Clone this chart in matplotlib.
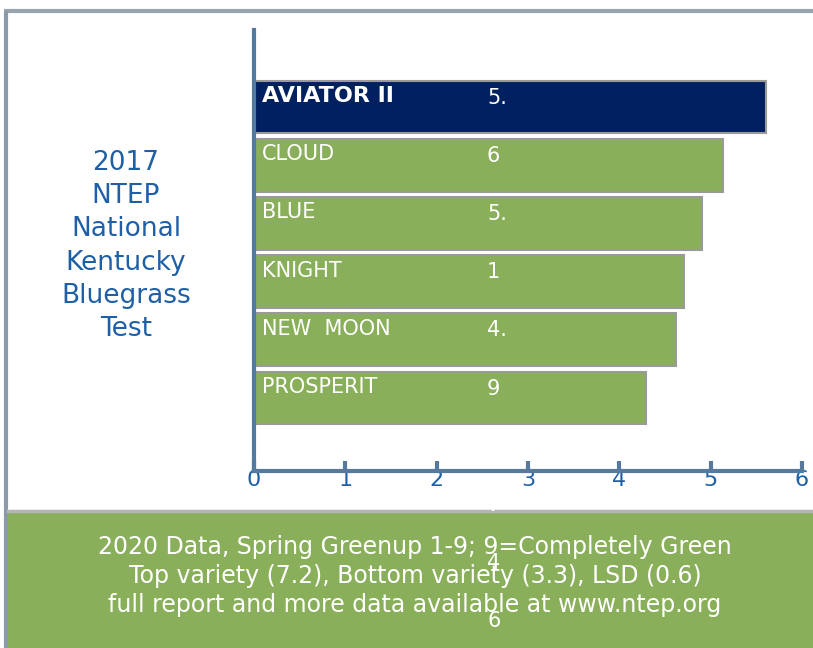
from matplotlib import font_manager
import matplotlib

matplotlib.use("Agg")
import matplotlib.pyplot as plt
from matplotlib.patches import Rectangle

varieties = ["AVIATOR II", "CLOUD", "BLUE", "KNIGHT", "NEW  MOON", "PROSPERIT"]
scores = [5.61, 5.13, 4.91, 4.71, 4.62, 4.29]
# value labels as they show in the picture (wrapped, spilling below)
value_labels = ["5.", "6", "5.", "1", "4.", "9"]
spill_labels = ["7", "4", "6"]
x_ticks = [0, 1, 2, 3, 4, 5, 6]

NAVY = "#002060"
GREEN = "#8AAF5A"
AXIS_BLUE = "#557A9E"
TEXT_BLUE = "#1F5FA6"

W, H = 813, 648


def px_box(left, top, width, height):
    return [left / W, 1 - (top + height) / H, width / W, height / H]


def narrow_family():
    names = {f.name for f in font_manager.fontManager.ttflist}
    for name in ["Liberation Sans Narrow", "DejaVu Sans Condensed"]:
        if name in names:
            return name
    return "DejaVu Sans"


fig = plt.figure(figsize=(W / 100, H / 100), dpi=100)

# outer frame
frame = fig.add_axes([0, 0, 1, 1])
frame.set_xlim(0, W)
frame.set_ylim(H, 0)
frame.axis("off")
frame.plot([4, W], [11, 11], color="#9aa4ad", lw=3, solid_capstyle="butt")
frame.plot([6, 6], [11, H], color="#8a9aab", lw=3, solid_capstyle="butt")

# chart
ax = fig.add_axes(px_box(254, 30, 548, 441))
ypos = list(range(len(varieties)))
colors = [NAVY] + [GREEN] * (len(varieties) - 1)
ax.barh(ypos, scores, height=0.91, color=colors, edgecolor="#9a9a9a", linewidth=1.5, zorder=2)
ax.set_xlim(0, 6)
ax.set_ylim(6.254, -1.323)

for i, (name, lab) in enumerate(zip(varieties, value_labels)):
    weight = "bold" if i == 0 else "normal"
    ax.text(0.09, i - 0.19, name, color="white", fontsize=15 if i else 16,
            fontweight=weight, va="center", ha="left", zorder=3)
    ax.text(2.55, i - 0.16, lab, color="white", fontsize=15, va="center", ha="left", zorder=3)

ax.set_yticks([])
ax.set_xticks(x_ticks)
ax.set_xticklabels([str(t) for t in x_ticks], color=TEXT_BLUE, fontsize=16)
ax.tick_params(axis="x", direction="in", length=7, width=3, color=AXIS_BLUE, pad=-1)
for side in ["top", "right"]:
    ax.spines[side].set_visible(False)
for side in ["left", "bottom"]:
    ax.spines[side].set_color(AXIS_BLUE)
    ax.spines[side].set_linewidth(3)
ax.patch.set_alpha(0)

# left title
fig.text(126 / W, 1 - 246 / H, "2017\nNTEP\nNational\nKentucky\nBluegrass\nTest",
         color=TEXT_BLUE, fontsize=19, ha="center", va="center", linespacing=1.36)

# footer box
foot = fig.add_axes([0, 0, 1, 1], zorder=5)
foot.set_xlim(0, W)
foot.set_ylim(H, 0)
foot.axis("off")
foot.patch.set_alpha(0)
foot.add_patch(Rectangle((8, 511), W - 8, H - 511, facecolor=GREEN, edgecolor="none"))
foot.plot([8, W], [511, 511], color="#b5b5b5", lw=2.5)
fam = narrow_family()
footer_lines = [
    "2020 Data, Spring Greenup 1-9; 9=Completely Green",
    "Top variety (7.2), Bottom variety (3.3), LSD (0.6)",
    "full report and more data available at www.ntep.org",
]
for k, line in enumerate(footer_lines):
    foot.text(415, 547 + 29 * k, line, color="white", fontsize=17, family=fam,
              ha="center", va="center")
for k, lab in enumerate(spill_labels):
    foot.text(494, 505 + 58 * k, lab, color="white", fontsize=15, family=fam,
              ha="center", va="center")

fig.savefig("out.png", dpi=100)
